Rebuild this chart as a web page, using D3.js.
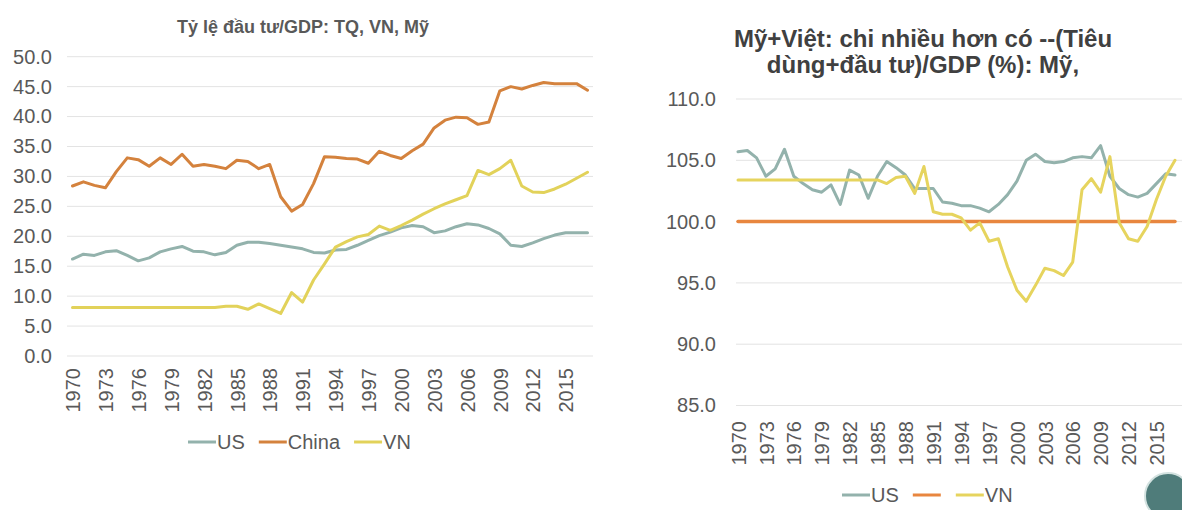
<!DOCTYPE html>
<html>
<head>
<meta charset="utf-8">
<script src="https://cdn.jsdelivr.net/npm/d3@7/dist/d3.min.js"></script>
<style>
  html, body { margin: 0; padding: 0; background: #ffffff; }
  svg { display: block; }
  text { font-family: "Liberation Sans", Arial, sans-serif; }
</style>
</head>
<body>
<svg id="chart" width="1182" height="510"></svg>
<script>
// ---------- DATA ----------
const years = [1970,1971,1972,1973,1974,1975,1976,1977,1978,1979,1980,1981,1982,1983,1984,1985,1986,1987,1988,1989,1990,1991,1992,1993,1994,1995,1996,1997,1998,1999,2000,2001,2002,2003,2004,2005,2006,2007,2008,2009,2010,2011,2012,2013,2014,2015,2016,2017];
const tickYears = [1970,1973,1976,1979,1982,1985,1988,1991,1994,1997,2000,2003,2006,2009,2012,2015];

// Left chart: investment / GDP (%)
const usInvest = [16.2,17.0,16.8,17.4,17.6,16.8,15.9,16.4,17.4,17.9,18.3,17.5,17.4,16.9,17.3,18.5,19.0,19.0,18.8,18.5,18.2,17.9,17.3,17.2,17.7,17.8,18.5,19.3,20.1,20.7,21.4,21.8,21.6,20.6,20.9,21.6,22.1,21.9,21.3,20.4,18.5,18.3,18.9,19.6,20.2,20.6,20.6,20.6];
const chinaInvest = [28.4,29.1,28.5,28.1,30.8,33.1,32.8,31.7,33.1,32.0,33.7,31.7,32.0,31.7,31.3,32.7,32.5,31.3,32.0,26.6,24.2,25.3,28.8,33.3,33.2,33.0,32.9,32.2,34.2,33.5,33.0,34.3,35.4,38.1,39.4,39.9,39.8,38.7,39.1,44.3,45.0,44.6,45.2,45.7,45.5,45.5,45.5,44.4];
const vnInvest = [8.1,8.1,8.1,8.1,8.1,8.1,8.1,8.1,8.1,8.1,8.1,8.1,8.1,8.1,8.3,8.3,7.8,8.7,7.9,7.1,10.6,9.0,12.7,15.4,18.2,19.1,19.9,20.3,21.7,21.0,21.8,22.7,23.7,24.6,25.4,26.1,26.8,31.0,30.3,31.3,32.7,28.4,27.4,27.3,27.9,28.7,29.7,30.7];
const leftTicks = [0,5,10,15,20,25,30,35,40,45,50];

// Right chart: (consumption + investment) / GDP (%)
const usSpend = [105.7,105.8,105.2,103.7,104.3,105.9,103.7,103.1,102.6,102.4,103.0,101.4,104.2,103.8,101.9,103.7,104.9,104.4,103.8,102.7,102.7,102.7,101.6,101.5,101.3,101.3,101.1,100.8,101.4,102.2,103.3,105.0,105.5,104.9,104.8,104.9,105.2,105.3,105.2,106.2,103.7,102.7,102.2,102.0,102.3,103.1,103.9,103.8];
const refSpend = [100.0,100.0,100.0,100.0,100.0,100.0,100.0,100.0,100.0,100.0,100.0,100.0,100.0,100.0,100.0,100.0,100.0,100.0,100.0,100.0,100.0,100.0,100.0,100.0,100.0,100.0,100.0,100.0,100.0,100.0,100.0,100.0,100.0,100.0,100.0,100.0,100.0,100.0,100.0,100.0,100.0,100.0,100.0,100.0,100.0,100.0,100.0,100.0];
const vnSpend = [103.4,103.4,103.4,103.4,103.4,103.4,103.4,103.4,103.4,103.4,103.4,103.4,103.4,103.4,103.4,103.4,103.1,103.6,103.7,102.3,104.5,100.8,100.6,100.6,100.3,99.3,99.9,98.4,98.6,96.3,94.4,93.5,94.8,96.2,96.0,95.6,96.7,102.6,103.5,102.4,105.3,99.9,98.6,98.4,99.6,101.8,103.7,105.0];
const rightTicks = [85,90,95,100,105,110];

const leftTitle = "Tỷ lệ đầu tư/GDP: TQ, VN, Mỹ";
const rightTitle = ["Mỹ+Việt: chi nhiều hơn có --(Tiêu", "dùng+đầu tư)/GDP (%): Mỹ,"];
const leftSeries = [
  {name: "US", values: usInvest, color: "#93b2ac"},
  {name: "China", values: chinaInvest, color: "#d4823d"},
  {name: "VN", values: vnInvest, color: "#e2d25a"}
];
const rightSeries = [
  {name: "US", values: usSpend, color: "#93b2ac"},
  {name: "", values: refSpend, color: "#e8863f"},
  {name: "VN", values: vnSpend, color: "#e6d45e"}
];

// ---------- DRAW ----------
const svg = d3.select("#chart");
const textColor = "#595959";
const gridColor = "#e3e3e3";

function drawChart(cfg) {
  const g = svg.append("g");
  const x = d3.scalePoint().domain(years).range(cfg.xRange).padding(cfg.pad);
  const y = d3.scaleLinear().domain(cfg.yDomain).range(cfg.yRange);

  // gridlines
  g.selectAll("line.grid").data(cfg.ticks).join("line")
    .attr("x1", cfg.gridX[0]).attr("x2", cfg.gridX[1])
    .attr("y1", d => y(d)).attr("y2", d => y(d))
    .attr("stroke", gridColor).attr("stroke-width", 1);

  // y axis labels
  const yAxis = d3.axisLeft(y).tickValues(cfg.ticks).tickFormat(d3.format(".1f")).tickSize(0).tickPadding(0);
  const ya = g.append("g").attr("transform", `translate(${cfg.yLabelX},0)`).call(yAxis);
  ya.select(".domain").remove();
  ya.selectAll("text").attr("fill", textColor).style("font-size", "20px")
    .style("font-family", '"Liberation Sans", Arial, sans-serif');

  // x axis labels (rotated)
  const xAxis = d3.axisBottom(x).tickValues(tickYears).tickSize(0).tickPadding(0);
  const xa = g.append("g").attr("transform", `translate(0,${cfg.xLabelY})`).call(xAxis);
  xa.select(".domain").remove();
  xa.selectAll("text")
    .attr("fill", textColor).style("font-size", "20px")
    .style("font-family", '"Liberation Sans", Arial, sans-serif')
    .attr("text-anchor", "end")
    .attr("transform", "rotate(-90)")
    .attr("x", 0).attr("y", 0).attr("dy", "0.36em");

  // lines
  const line = d3.line().x((d, i) => x(years[i])).y(d => y(d));
  cfg.series.forEach(s => {
    g.append("path").datum(s.values)
      .attr("fill", "none").attr("stroke", s.color)
      .attr("stroke-width", s.width || 3)
      .attr("stroke-linejoin", "round").attr("stroke-linecap", "round")
      .attr("d", line);
  });

  // legend
  let lx = cfg.legendX;
  cfg.series.forEach(s => {
    g.append("line").attr("x1", lx).attr("x2", lx + 28)
      .attr("y1", cfg.legendY).attr("y2", cfg.legendY)
      .attr("stroke", s.color).attr("stroke-width", 3);
    const t = g.append("text").attr("x", lx + 29).attr("y", cfg.legendY).attr("dy", "0.36em")
      .attr("fill", textColor).style("font-size", "20px").text(s.name);
    const w = s.name ? t.node().getComputedTextLength() : 0;
    lx += 29 + w + 14;
  });
}

// Left chart
drawChart({
  xRange: [67, 593], pad: 0.5, gridX: [67, 593],
  yDomain: [0, 50], yRange: [356, 56.7], ticks: leftTicks,
  yLabelX: 52, xLabelY: 368,
  series: leftSeries, legendX: 188, legendY: 442
});
svg.append("text").attr("x", 303).attr("y", 33).attr("text-anchor", "middle")
  .attr("fill", textColor).style("font-size", "18px").style("font-weight", "bold")
  .text(leftTitle);

// Right chart
rightSeries[1].width = 3.5;
drawChart({
  xRange: [738, 1175], pad: 0, gridX: [736, 1182],
  yDomain: [85, 110], yRange: [405.5, 99], ticks: rightTicks,
  yLabelX: 716, xLabelY: 421,
  series: rightSeries, legendX: 842, legendY: 495
});
svg.append("text").attr("x", 923).attr("y", 46.7).attr("text-anchor", "middle")
  .attr("fill", "#404040").style("font-size", "24px").style("font-weight", "bold")
  .selectAll("tspan").data(rightTitle).join("tspan")
  .attr("x", 923).attr("dy", (d, i) => i === 0 ? 0 : 26).text(d => d);

// decorative circle bottom-right
svg.append("circle").attr("cx", 1168).attr("cy", 496).attr("r", 23)
  .attr("fill", "#4f7c7a").attr("stroke", "#d3e2e0").attr("stroke-width", 2);
</script>
</body>
</html>
